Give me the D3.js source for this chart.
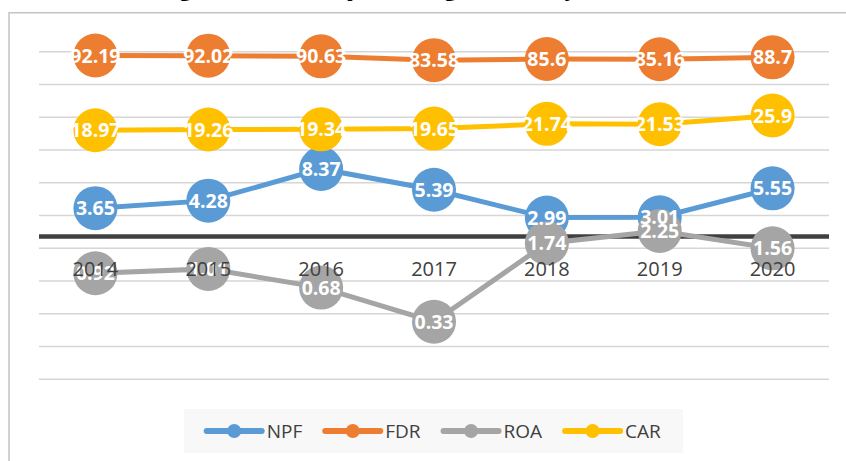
<!DOCTYPE html>
<html>
<head>
<meta charset="utf-8">
<script src="https://cdn.jsdelivr.net/npm/d3@7"></script>
<style>
  body { margin: 0; background: #fff; }
  svg { display: block; font-family: 'Open Sans', sans-serif; }
</style>
</head>
<body>
<div id="chart"></div>
<script>
// Data
var years = ['2014', '2015', '2016', '2017', '2018', '2019', '2020'];
var npf = [3.65, 4.28, 8.37, 5.39, 2.99, 3.01, 5.55];
var fdr = [92.19, 92.02, 90.63, 83.58, 85.6, 85.16, 88.7];
var roa = [0.92, 1.01, 0.68, 0.33, 1.74, 2.25, 1.56];
var car = [18.97, 19.26, 19.34, 19.65, 21.74, 21.53, 25.9];
var seriesNames = ['NPF', 'FDR', 'ROA', 'CAR'];
var seriesColors = ['#5b9bd5', '#ed7d31', '#a5a5a5', '#ffc000'];

var series = [npf, fdr, roa, car].map(function(v, i) {
  return { name: seriesNames[i], color: seriesColors[i], values: v };
});

var width = 846;
var height = 461;

var svg = d3.select('#chart')
  .append('svg')
  .attr('width', width)
  .attr('height', height);

// chart frame
svg.append('path')
  .attr('d', 'M9,' + height + 'V12.7H' + width)
  .style('fill', 'none')
  .style('stroke', '#c4c4c4')
  .style('stroke-width', 1.5);

// title (cut off at the top of the picture)
svg.append('text')
  .attr('x', 438)
  .attr('y', -4)
  .attr('text-anchor', 'middle')
  .style('font-size', '22px')
  .style('font-weight', 'bold')
  .style('fill', '#000')
  .text('Perkembangan Rasio Kinerja Keuangan Bank Syariah Tahun 2014-2020');

// scales: log base 2 axis
var x = d3.scalePoint()
  .domain(years)
  .range([39, 829])
  .padding(0.5);

var y = d3.scaleLog()
  .base(2)
  .domain([100 / 1024, 100])
  .range([379.3, 51.7]);

var gridValues = d3.range(0, 11).map(function(k) { return 100 / Math.pow(2, k); });

svg.append('g')
  .selectAll('line')
  .data(gridValues)
  .enter().append('line')
  .attr('x1', 39)
  .attr('x2', 829)
  .attr('y1', function(d) { return y(d); })
  .attr('y2', function(d) { return y(d); })
  .style('stroke', '#d6d6d6')
  .style('stroke-width', 1.5);

// horizontal axis crosses at 2
svg.append('line')
  .attr('x1', 39)
  .attr('x2', 829)
  .attr('y1', y(2))
  .attr('y2', y(2))
  .style('stroke', '#404040')
  .style('stroke-width', 4.5);

var line = d3.line()
  .x(function(d, i) { return x(years[i]); })
  .y(function(d) { return y(d); });

var groups = svg.selectAll('.series')
  .data(series)
  .enter().append('g')
  .attr('class', 'series');

groups.append('path')
  .attr('d', function(d) { return line(d.values); })
  .style('fill', 'none')
  .style('stroke', function(d) { return d.color; })
  .style('stroke-width', 5);

groups.selectAll('circle')
  .data(function(d) { return d.values.map(function(v) { return { v: v, c: d.color }; }); })
  .enter().append('circle')
  .attr('cx', function(d, i) { return x(years[i]); })
  .attr('cy', function(d) { return y(d.v); })
  .attr('r', 22)
  .style('fill', function(d) { return d.c; });

// data labels on top of all markers
var labels = svg.append('g');
series.forEach(function(s) {
  labels.selectAll(null)
    .data(s.values)
    .enter().append('text')
    .attr('x', function(d, i) { return x(years[i]); })
    .attr('y', function(d) { return y(d); })
    .attr('dy', '0.36em')
    .attr('text-anchor', 'middle')
    .style('font-size', '19.5px')
    .style('font-weight', 'bold')
    .style('fill', '#fff')
    .text(function(d) { return String(d); });
});

// category labels
svg.append('g')
  .selectAll('text')
  .data(years)
  .enter().append('text')
  .attr('x', function(d) { return x(d); })
  .attr('y', 276)
  .attr('text-anchor', 'middle')
  .style('font-size', '20px')
  .style('fill', '#404040')
  .text(function(d) { return d; });

// legend
svg.append('rect')
  .attr('x', 184)
  .attr('y', 409)
  .attr('width', 499)
  .attr('height', 44)
  .style('fill', '#f8f8f8');

var legend = svg.append('g');
var lx = 206.7;
series.forEach(function(s) {
  var item = legend.append('g').attr('transform', 'translate(' + lx + ',431)');
  item.append('line')
    .attr('x1', 0)
    .attr('x2', 55)
    .style('stroke', s.color)
    .style('stroke-width', 6)
    .style('stroke-linecap', 'round');
  item.append('circle')
    .attr('cx', 27.5)
    .attr('r', 7)
    .style('fill', s.color);
  var t = item.append('text')
    .attr('x', 60)
    .attr('dy', '0.36em')
    .style('font-size', '19px')
    .style('fill', '#404040')
    .text(s.name);
  lx += 60 + t.node().getComputedTextLength() + 23;
});
</script>
</body>
</html>
